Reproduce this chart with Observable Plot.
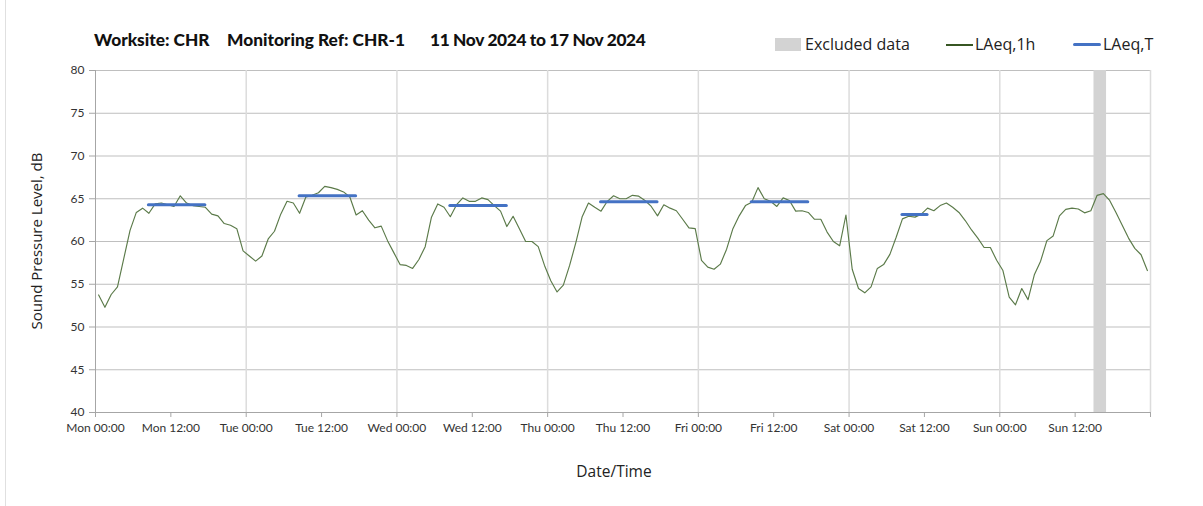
<!DOCTYPE html>
<html><head><meta charset="utf-8">
<script src="https://cdn.jsdelivr.net/npm/d3@7"></script>
<script src="https://cdn.jsdelivr.net/npm/@observablehq/plot@0.6"></script>
<style>
html,body{margin:0;padding:0;background:#fff;}
#wrap{position:relative;width:1203px;height:506px;overflow:hidden;font-family:"Open Sans",Lato,sans-serif;background:#fff;}
#border{position:absolute;left:5px;top:0;width:1px;height:506px;background:#e0e0e0;}
.t{position:absolute;top:29px;font-family:Lato,sans-serif;font-weight:900;font-size:17.3px;color:#111;white-space:nowrap;line-height:22px;}
.lg{position:absolute;top:33px;font-size:16px;color:#222;white-space:nowrap;line-height:22px;}
.sw{position:absolute;}
#chart{position:absolute;left:0;top:60px;}
#ylab{position:absolute;left:36px;top:241px;transform:translate(-50%,-50%) rotate(-90deg);font-size:15px;color:#222;white-space:nowrap;}
#xlab{position:absolute;left:614px;top:471px;transform:translate(-50%,-50%);font-size:15.5px;color:#222;white-space:nowrap;}
</style></head>
<body>
<div id="wrap">
  <div id="border"></div>
  <div class="t" id="t1" style="left:94px"></div>
  <div class="t" id="t2" style="left:227px"></div>
  <div class="t" id="t3" style="left:430px;letter-spacing:-0.35px"></div>
  <div class="sw" style="left:775px;top:38px;width:26px;height:13px;background:#d3d3d3"></div>
  <div class="lg" id="l1" style="left:805px"></div>
  <div class="sw" style="left:946px;top:44px;width:27px;height:1.5px;background:#375623"></div>
  <div class="lg" id="l2" style="left:975px"></div>
  <div class="sw" style="left:1073px;top:43px;width:28px;height:3px;background:#4472c4;border-radius:1.5px"></div>
  <div class="lg" id="l3" style="left:1103px"></div>
  <div id="chart"></div>
  <div id="ylab"></div>
  <div id="xlab"></div>
</div>
<script>
// ---- Data (hourly LAeq,1h, dB) ----
const titleParts = ["Worksite: CHR", "Monitoring Ref: CHR-1", "11 Nov 2024 to 17 Nov 2024"];
const legendLabels = ["Excluded data", "LAeq,1h", "LAeq,T"];
const yLabel = "Sound Pressure Level, dB";
const xLabel = "Date/Time";
const xTickLabels = ["Mon 00:00","Mon 12:00","Tue 00:00","Tue 12:00","Wed 00:00","Wed 12:00","Thu 00:00","Thu 12:00","Fri 00:00","Fri 12:00","Sat 00:00","Sat 12:00","Sun 00:00","Sun 12:00",""];
const yTicks = [40,45,50,55,60,65,70,75,80];

const mon = [53.75,52.3,53.8,54.7,58.0,61.3,63.4,63.9,63.3,64.4,64.5,64.3,64.1,65.35,64.5,64.2,64.1,64.0,63.2,63.0,62.1,61.9,61.5,58.9];
const tue = [58.3,57.7,58.3,60.3,61.2,63.2,64.7,64.5,63.3,65.2,65.4,65.7,66.45,66.3,66.1,65.8,65.2,63.1,63.6,62.5,61.6,61.8,60.1,58.7];
const wed = [57.3,57.2,56.85,57.9,59.4,62.85,64.4,64.0,62.9,64.3,65.1,64.7,64.7,65.1,64.9,64.2,63.55,61.75,62.95,61.5,60.0,60.0,59.4,57.2];
const thu = [55.4,54.1,54.9,57.2,59.9,62.9,64.5,64.0,63.55,64.7,65.35,65.0,65.0,65.4,65.3,64.8,64.1,63.0,64.3,63.9,63.6,62.6,61.6,61.5];
const fri = [57.8,57.0,56.75,57.35,59.1,61.5,63.0,64.2,64.6,66.3,65.0,64.7,64.1,65.1,64.8,63.55,63.6,63.4,62.6,62.6,61.1,60.0,59.5,63.1];
const sat = [56.75,54.5,54.0,54.7,56.85,57.3,58.5,60.5,62.65,62.95,62.85,63.2,63.9,63.6,64.2,64.5,64.0,63.4,62.45,61.35,60.4,59.3,59.3,57.8];
const sun = [56.6,53.5,52.6,54.5,53.2,56.1,57.7,60.1,60.65,63.0,63.75,63.9,63.8,63.35,63.6,65.4,65.6,64.8,63.4,61.9,60.4,59.2,58.45,56.6];

// LAeq,T daytime periods: day index, start hour, end hour, level
const ltDay   = [0, 1, 2, 3, 4, 5];
const ltStart = [8, 8, 8, 8, 8, 8];
const ltEnd   = [18, 18, 18, 18, 18, 13];
const ltLevel = [64.3, 65.35, 64.2, 64.65, 64.65, 63.15];

// Excluded data period (hours from Mon 00:00)
const excludedStart = [159];
const excludedEnd = [161];

// ---- Build tables ----
const days = [mon, tue, wed, thu, fri, sat, sun];
const hourly = days.flatMap((arr, d) => arr.map((v, h) => ({t: d*24 + h, v})));
const lt = ltDay.map((d, i) => ({x1: d*24 + ltStart[i] + 0.5, x2: d*24 + ltEnd[i] - 0.5, y: ltLevel[i]}));
const excl = excludedStart.map((s, i) => ({x1: s, x2: excludedEnd[i]}));

document.getElementById("t1").textContent = titleParts[0];
document.getElementById("t2").textContent = titleParts[1];
document.getElementById("t3").textContent = titleParts[2];
document.getElementById("l1").textContent = legendLabels[0];
document.getElementById("l2").textContent = legendLabels[1];
document.getElementById("l3").textContent = legendLabels[2];
document.getElementById("ylab").textContent = yLabel;
document.getElementById("xlab").textContent = xLabel;

const chart = Plot.plot({
  width: 1203,
  height: 446,
  marginLeft: 95,
  marginRight: 53,
  marginTop: 10,
  marginBottom: 94,
  style: {fontFamily: "Lato, 'Open Sans', sans-serif", fontSize: "12px", color: "#333", background: "transparent"},
  x: {domain: [0, 168]},
  y: {domain: [40, 80]},
  marks: [
    Plot.ruleY(yTicks.filter(d => d > 40), {stroke: "#bfbfbf", strokeWidth: 1}),
    Plot.ruleX(d3.range(24, 169, 24), {y1: 40, y2: 80, stroke: "#dcdcdc", strokeWidth: 1.5}),
    Plot.rect(excl, {x1: "x1", x2: "x2", y1: 40, y2: 80, fill: "#d3d3d3"}),
    Plot.ruleY([40], {stroke: "#a6a6a6"}),
    Plot.ruleX([0], {y1: 40, y2: 80, stroke: "#a6a6a6"}),
    Plot.line(hourly, {x: d => d.t + 0.5, y: "v", stroke: "#5b7a49", strokeWidth: 1.15}),
    Plot.ruleY(lt, {x1: "x1", x2: "x2", y: "y", stroke: "#4472c4", strokeWidth: 3, strokeLinecap: "round"}),
    Plot.axisY({ticks: yTicks, tickSize: 6, tickPadding: 5, stroke: "#a6a6a6", label: null}),
    Plot.axisX({ticks: d3.range(0, 169, 12), tickFormat: d => xTickLabels[d / 12], tickSize: 5, tickPadding: 6, stroke: "#a6a6a6", label: null})
  ]
});
document.getElementById("chart").appendChild(chart);
</script>
</body></html>
